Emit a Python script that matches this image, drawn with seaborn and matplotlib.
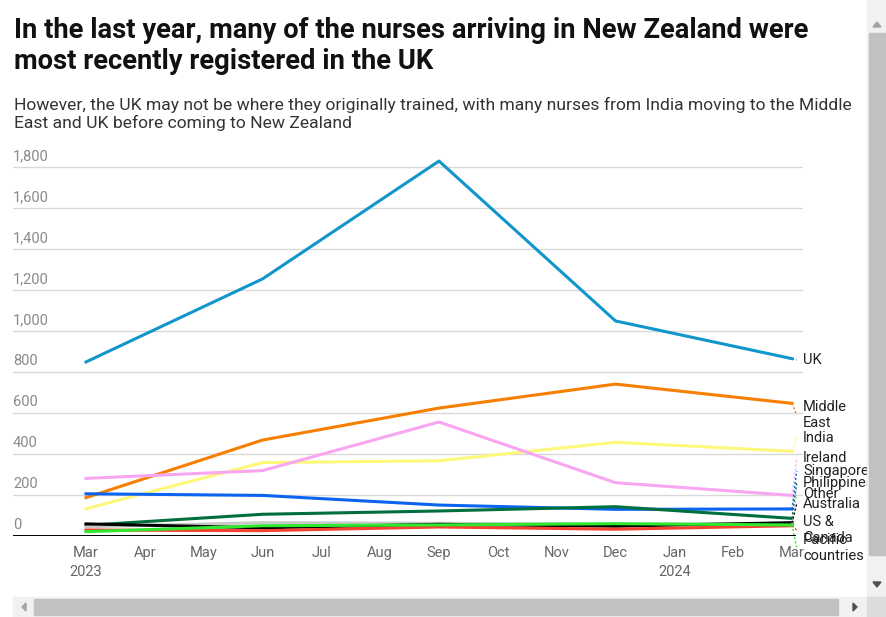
import numpy as np
import pandas as pd
import seaborn as sns
import matplotlib
matplotlib.use("Agg")
import matplotlib.pyplot as plt
from matplotlib.patches import Rectangle, Polygon

# ---- data ----
quarters = ["2023-03", "2023-06", "2023-09", "2023-12", "2024-03"]
uk = [849, 1254, 1829, 1049, 865]
middle_east = [187, 468, 624, 741, 647]
india = [133, 358, 367, 457, 413]
ireland = [281, 319, 556, 260, 198]
singapore = [206, 198, 151, 130, 132]
philippines = [52, 106, 122, 143, 86]
other = [45, 65, 62, 58, 60]
australia = [59, 40, 57, 48, 65]
us_canada = [29, 26, 44, 33, 50]
pacific = [21, 50, 54, 60, 54]

series_names = ["UK", "Middle East", "India", "Ireland", "Singapore", "Philippines",
                "Other", "Australia", "US & Canada", "Pacific countries"]
series_values = [uk, middle_east, india, ireland, singapore, philippines,
                 other, australia, us_canada, pacific]
series_labels = ["UK", "Middle\nEast", "India", "Ireland", "Singapore", "Philippines",
                 "Other", "Australia", "US &\nCanada", "Pacific\ncountries"]
colors = ["#1196cc", "#f77f00", "#fdf77a", "#f9a6f2", "#0a64f0", "#006f3e",
          "#c8c8c8", "#000000", "#f5412f", "#2fe82f"]
month_labels = ["Mar\n2023", "Apr", "May", "Jun", "Jul", "Aug", "Sep", "Oct", "Nov",
                "Dec", "Jan\n2024", "Feb", "Mar"]
y_ticks = [0, 200, 400, 600, 800, 1000, 1200, 1400, 1600, 1800]

rows = []
for name, vals in zip(series_names, series_values):
    for q, v in zip(quarters, vals):
        rows.append({"series": name, "date": pd.Timestamp(q), "value": v})
df = pd.DataFrame(rows)
start = pd.Timestamp("2023-03")
df["month"] = (df["date"].dt.year - start.year) * 12 + (df["date"].dt.month - start.month)

W, H = 886, 617
fig = plt.figure(figsize=(W / 100, H / 100), dpi=100)
plt.rcParams["font.family"] = ["Roboto", "DejaVu Sans"]

def px(x0, y0, x1, y1):
    return [x0 / W, 1 - y1 / H, (x1 - x0) / W, (y1 - y0) / H]

ax = fig.add_axes(px(13, 146, 803, 536))
sns.lineplot(data=df, x="month", y="value", hue="series", hue_order=series_names,
             palette=dict(zip(series_names, colors)), linewidth=2.2, legend=False,
             ax=ax, zorder=3)

ax.set_xlim(-(86 - 13) / 58.83, 12 + (803 - 792) / 58.83)
ax.set_ylim(0, (536 - 146) / 0.205)
for s in ax.spines.values():
    s.set_visible(False)
ax.axhline(0, color="black", lw=1.4, xmax=(795 - 13) / (803 - 13), zorder=4)
for t in y_ticks[1:]:
    ax.axhline(t, color="#d9d9d9", lw=1, zorder=1)
for t in y_ticks:
    ax.text(0.0, t + 52, f"{t:,}", transform=ax.get_yaxis_transform(),
            ha="left", va="center", color="#8a8a8a", fontsize=10.5)
ax.set_yticks([])
ax.set_xticks(range(13))
ax.set_xticklabels(month_labels, color="#666666", fontsize=10.5, linespacing=1.45)
ax.tick_params(axis="x", length=0, pad=7)
ax.set_xlabel("")
ax.set_ylabel("")

# right-hand labels with collision offsets (label centre y in pixels)
label_px_y = [360, 415, 438, 458, 471, 483, 494, 504, 530, 548]
for lab, col, vals, ly in zip(series_labels, colors, series_values, label_px_y):
    yv = (536 - ly) / 0.205
    ax.plot([12, 12.08], [vals[-1], yv], color=col, lw=1, ls=(0, (1.5, 1.5)),
            clip_on=False, zorder=3)
    ax.text(12 + (803 - 792) / 58.83, yv, lab, ha="left", va="center",
            fontsize=10.5, color="#222222", linespacing=1.2, clip_on=False)

fig.text(14 / W, 1 - 46 / H, "In the last year, many of the nurses arriving in New Zealand were\nmost recently registered in the UK",
         ha="left", va="center", fontsize=19.7, fontweight="bold", color="#111111",
         linespacing=1.17)
fig.text(14 / W, 1 - 114 / H, "However, the UK may not be where they originally trained, with many nurses from India moving to the Middle\nEast and UK before coming to New Zealand",
         ha="left", va="center", fontsize=12.6, color="#333333", linespacing=1.2)

# scrollbars (screenshot chrome)
def rect(x0, y0, x1, y1, c):
    fig.patches.append(Rectangle((x0 / W, 1 - y1 / H), (x1 - x0) / W, (y1 - y0) / H,
                                 transform=fig.transFigure, color=c, zorder=10))
def tri(pts, c):
    fig.patches.append(Polygon([(x / W, 1 - y / H) for x, y in pts], closed=True,
                               transform=fig.transFigure, color=c, zorder=11))
rect(867, 0, 886, 597, "#f1f1f1")
rect(869, 33, 886, 555, "#c1c1c1")
rect(13, 597, 867, 617, "#f1f1f1")
rect(34, 599, 838, 615, "#c1c1c1")
rect(867, 597, 886, 617, "#dcdcdc")
tri([(873, 27), (881, 27), (877, 22)], "#a3a3a3")
tri([(873, 582), (881, 582), (877, 587)], "#505050")
tri([(26, 603), (26, 611), (22, 607)], "#a3a3a3")
tri([(853, 603), (853, 611), (857, 607)], "#505050")

fig.savefig("out.png", dpi=100)
